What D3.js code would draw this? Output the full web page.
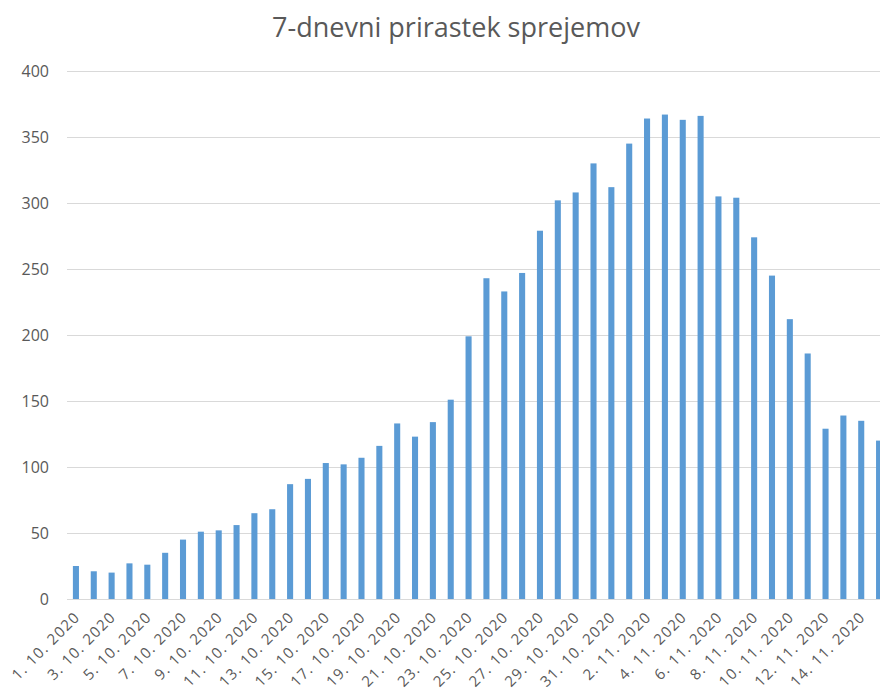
<!DOCTYPE html>
<html>
<head>
<meta charset="utf-8">
<script src="https://cdn.jsdelivr.net/npm/d3@7"></script>
<style>
  body { margin: 0; background: #fff; }
  svg { display: block; font-family: "Open Sans", "Liberation Sans", sans-serif; }
</style>
</head>
<body>
<div id="chart"></div>
<script>
const dates = [
    "1. 10. 2020", "2. 10. 2020", "3. 10. 2020", "4. 10. 2020", "5. 10. 2020",
    "6. 10. 2020", "7. 10. 2020", "8. 10. 2020", "9. 10. 2020", "10. 10. 2020",
    "11. 10. 2020", "12. 10. 2020", "13. 10. 2020", "14. 10. 2020", "15. 10. 2020",
    "16. 10. 2020", "17. 10. 2020", "18. 10. 2020", "19. 10. 2020", "20. 10. 2020",
    "21. 10. 2020", "22. 10. 2020", "23. 10. 2020", "24. 10. 2020", "25. 10. 2020",
    "26. 10. 2020", "27. 10. 2020", "28. 10. 2020", "29. 10. 2020", "30. 10. 2020",
    "31. 10. 2020", "1. 11. 2020", "2. 11. 2020", "3. 11. 2020", "4. 11. 2020",
    "5. 11. 2020", "6. 11. 2020", "7. 11. 2020", "8. 11. 2020", "9. 11. 2020",
    "10. 11. 2020", "11. 11. 2020", "12. 11. 2020", "13. 11. 2020", "14. 11. 2020",
    "15. 11. 2020"
];

const admissions = [
    25, 21, 20, 27, 26, 35, 45, 51, 52, 56,
    65, 68, 87, 91, 103, 102, 107, 116, 133, 123,
    134, 151, 199, 243, 233, 247, 279, 302, 308, 330,
    312, 345, 364, 367, 363, 366, 305, 304, 274, 245,
    212, 186, 129, 139, 135, 120
];

const yTicks = [0, 50, 100, 150, 200, 250, 300, 350, 400];

const width = 880, height = 693;
const plotLeft = 67, plotRight = 888, plotTop = 71, plotBottom = 599;

const svg = d3.select("#chart").append("svg")
    .attr("width", width)
    .attr("height", height);

const x = d3.scaleBand()
    .domain(dates)
    .range([plotLeft, plotRight])
    .paddingInner(0.66)
    .paddingOuter(0.33);

const y = d3.scaleLinear()
    .domain([0, 400])
    .range([plotBottom, plotTop]);

// title
svg.append("text")
    .attr("x", 456)
    .attr("y", 37)
    .attr("text-anchor", "middle")
    .style("font-size", "27px")
    .style("fill", "#595959")
    .text("7-dnevni prirastek sprejemov");

// gridlines + y labels
const yAxis = svg.append("g")
    .attr("transform", `translate(${plotLeft},0)`)
    .call(d3.axisLeft(y).tickValues(yTicks).tickSize(-(width - plotLeft)).tickPadding(18));
yAxis.select(".domain").remove();
yAxis.selectAll(".tick line").attr("stroke", "#d9d9d9").attr("stroke-width", 1);
yAxis.selectAll(".tick text")
    .style("font-size", "16px")
    .style("fill", "#595959")
    .style("font-family", "Open Sans, sans-serif");

// bars
svg.selectAll(".bar")
    .data(admissions)
    .enter()
    .append("rect")
    .attr("class", "bar")
    .attr("x", (d, i) => x(dates[i]))
    .attr("y", d => y(d))
    .attr("width", x.bandwidth())
    .attr("height", d => y(0) - y(d))
    .attr("fill", "#5b9bd5");

// x labels, every second day
const xAxis = svg.append("g")
    .attr("transform", `translate(0,${plotBottom})`)
    .call(d3.axisBottom(x).tickValues(dates.filter((d, i) => i % 2 === 0)).tickSize(0).tickPadding(0));
xAxis.select(".domain").remove();
xAxis.selectAll(".tick text")
    .attr("text-anchor", "end")
    .attr("dy", null)
    .attr("transform", "translate(5,19) rotate(-45)")
    .style("font-size", "15px")
    .style("letter-spacing", "1.2px")
    .style("fill", "#595959")
    .style("font-family", "Open Sans, sans-serif");
</script>
</body>
</html>
